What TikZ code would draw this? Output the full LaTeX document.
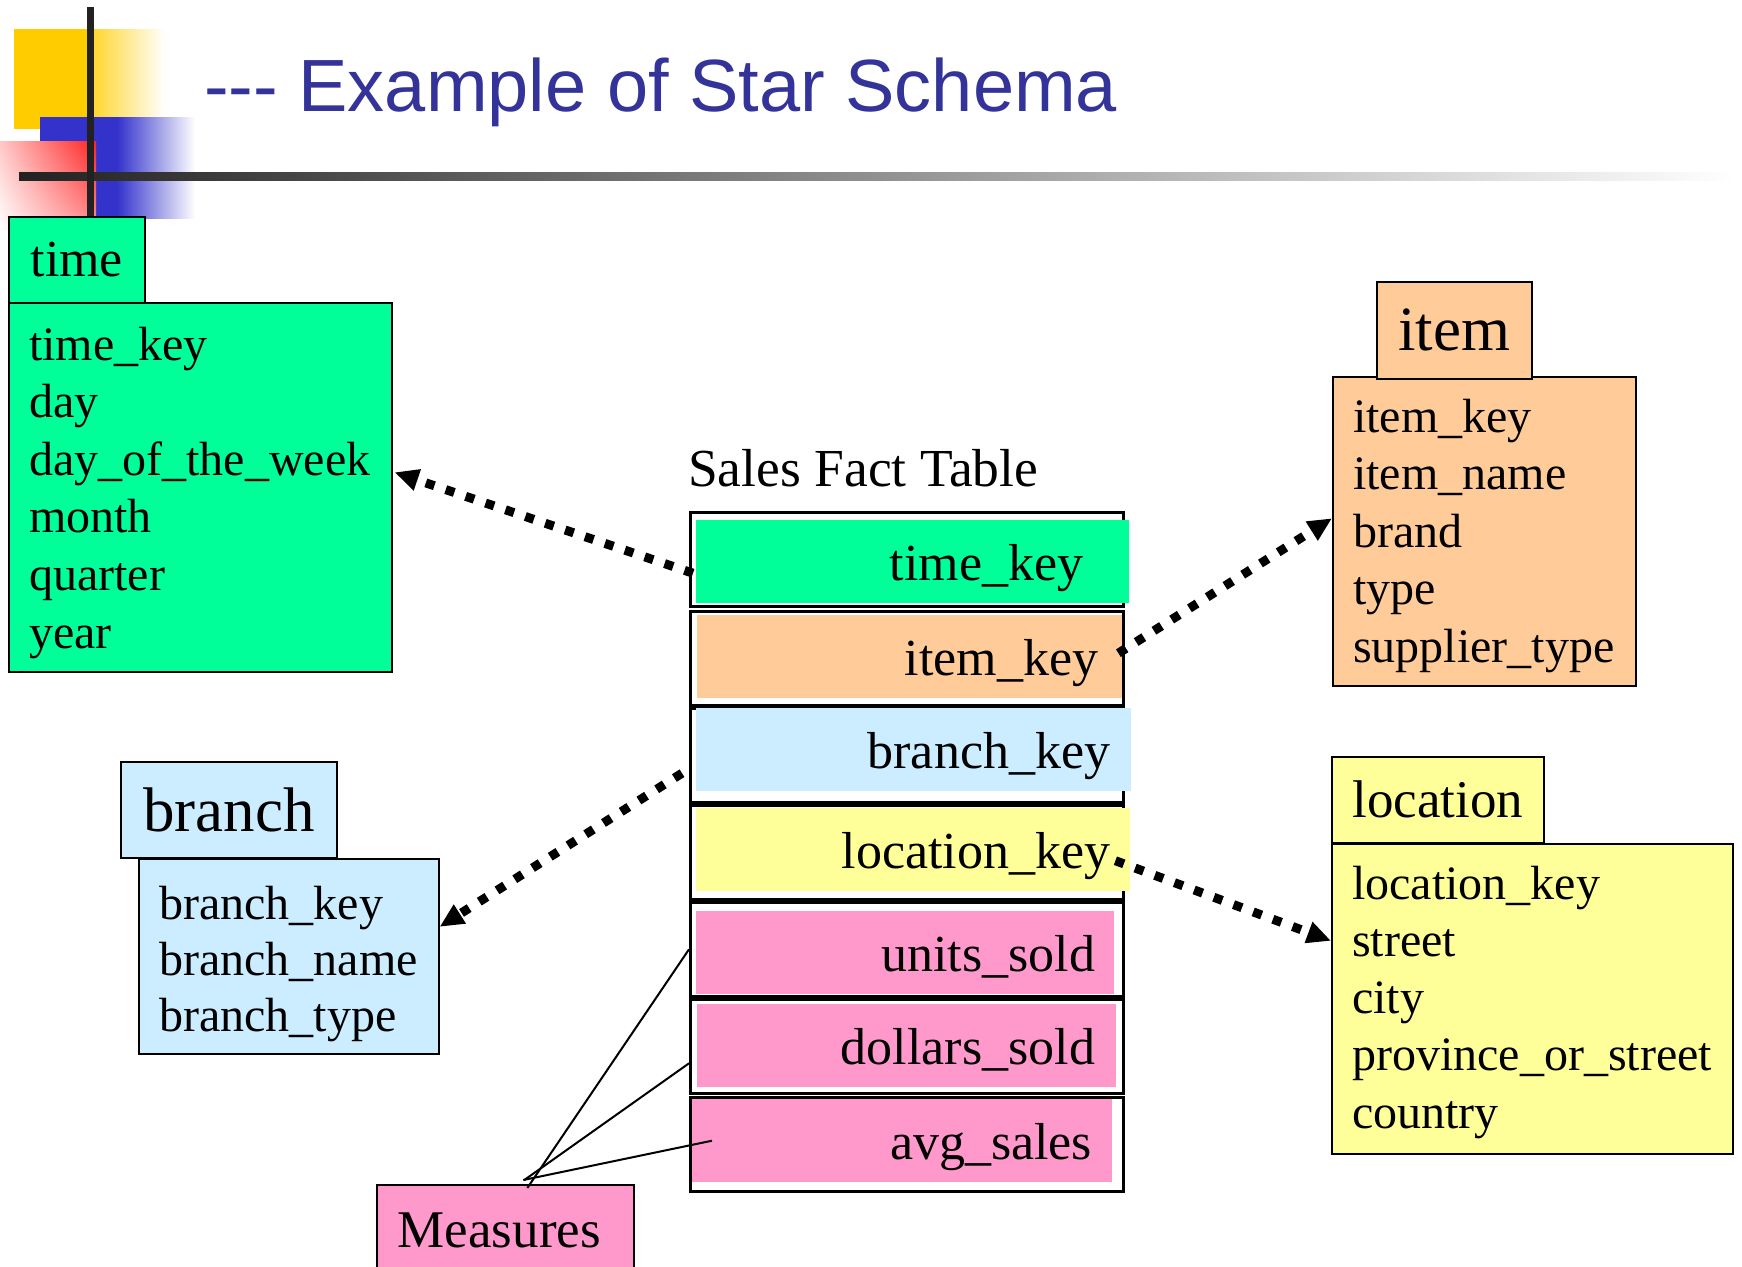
\documentclass[tikz,border=0pt]{standalone}
\usepackage{fontspec}
\setmainfont{Liberation Serif}
\newfontfamily\titlefont{Liberation Sans}
\usetikzlibrary{arrows.meta, calc, shadings}
\definecolor{titleblue}{HTML}{333399}
\definecolor{timegreen}{HTML}{00FF99}
\definecolor{itempeach}{HTML}{FFCC99}
\definecolor{branchblue}{HTML}{CCECFF}
\definecolor{locyellow}{HTML}{FFFF99}
\definecolor{measpink}{HTML}{FF99CC}
\definecolor{decoyellow}{HTML}{FFCC00}
\definecolor{decoblue}{HTML}{3333CC}
\definecolor{decored}{HTML}{FF2222}
\definecolor{decobar}{HTML}{222222}
\tikzset{
  dimhead/.style={draw=black, line width=1.6pt, anchor=north west, inner sep=0pt},
  dimbody/.style={draw=black, line width=1.6pt, anchor=north west, inner sep=0pt},
  attr/.style={anchor=base west, inner sep=0pt, font=\fontsize{48}{57}\selectfont},
  factrow/.style={draw=black, line width=2.6pt, fill=white, anchor=north west,
    minimum width=433pt, minimum height=94pt, inner sep=0pt},
  factkey/.style={anchor=north west, inner ysep=0pt, text height=60pt, text depth=23pt,
    align=right, font=\fontsize{52}{60}\selectfont},
  fkarrow/.style={line width=9pt, dash pattern=on 9pt off 12pt,
    -{Triangle[length=24pt,width=21pt]}},
  measline/.style={line width=2pt},
}

\begin{document}
\begin{tikzpicture}[x=1pt, y=-1pt]
  \fill[white] (0,0) rectangle (1742,1266);
  \useasboundingbox (0,0) rectangle (1742,1266);

  % title decoration
  \fill[decoyellow] (14,29) rectangle (94,129);
  \shade[left color=decoyellow!80!white, right color=white] (94,29) rectangle (165,129);
  \fill[decoblue] (40,117) rectangle (117,218);
  \shade[left color=decoblue, right color=white] (117,117) rectangle (195,218);
  \shade[upper right=decored, upper left=decored!25!white,
         lower right=decored!50!white, lower left=white] (0,141) rectangle (96,230);
  \shade[left color=decobar, right color=white] (19,172) rectangle (1735,180);
  \fill[decobar] (87,7) rectangle (94,216);
  \node[anchor=base west, inner sep=0pt, text=titleblue,
        font=\titlefont\fontsize{74}{80}\selectfont] (title) at (204,111)
        {{-}{-}{-} Example of Star Schema};

  % time
  \node[dimbody, fill=timegreen, minimum width=383pt, minimum height=369pt] (timebox) at (8,302) {};
  \node[dimhead, fill=timegreen, minimum width=136pt, minimum height=86pt,
        font=\fontsize{52}{60}\selectfont] (timehead) at (8,216) {time};
  \foreach \a [count=\i] in {time\_key, day, day\_of\_the\_week, month, quarter, year}
    \node[attr] (time\i) at (29, {360+57.6*(\i-1)}) {\a};

  % item
  \node[dimbody, fill=itempeach, minimum width=303pt, minimum height=309pt] (itembox) at (1332,376) {};
  \node[dimhead, fill=itempeach, minimum width=155pt, minimum height=97pt,
        font=\fontsize{63}{70}\selectfont] (itemhead) at (1376,281) {item};
  \foreach \a [count=\i] in {item\_key, item\_name, brand, type, supplier\_type}
    \node[attr] (item\i) at (1353, {432+57.5*(\i-1)}) {\a};

  % branch
  \node[dimbody, fill=branchblue, minimum width=300pt, minimum height=195pt] (branchbox) at (138,858) {};
  \node[dimhead, fill=branchblue, minimum width=216pt, minimum height=96pt,
        font=\fontsize{63}{70}\selectfont] (branchhead) at (120,761) {branch};
  \foreach \a [count=\i] in {branch\_key, branch\_name, branch\_type}
    \node[attr] (branch\i) at (159, {919+56*(\i-1)}) {\a};

  % location
  \node[dimbody, fill=locyellow, minimum width=401pt, minimum height=310pt] (locbox) at (1331,843) {};
  \node[dimhead, fill=locyellow, minimum width=212pt, minimum height=86pt,
        font=\fontsize{53}{60}\selectfont] (lochead) at (1331,756) {location};
  \foreach \a [count=\i] in {location\_key, street, city, province\_or\_street, country}
    \node[attr] (loc\i) at (1352, {899+57.3*(\i-1)}) {\a};

  % fact table
  \node[anchor=base west, inner sep=0pt, font=\fontsize{53.5}{60}\selectfont] (sft) at (688,486) {Sales Fact Table};
  \foreach \t [count=\i] in {511,610,707,804,901,998,1096}
    \node[factrow] (fr\i) at (689,\t) {};
  \foreach \x/\y/\p/\tw/\c/\k [count=\i] in {
      696/520/46/341/timegreen/time\_key,
      697/615/24/377/itempeach/item\_key,
      696/708/21/393/branchblue/branch\_key,
      696/808/20/394/locyellow/location\_key,
      696/911/19/380/measpink/units\_sold,
      697/1004/21/377/measpink/dollars\_sold,
      692/1099/20/380/measpink/avg\_sales}
    \node[factkey, fill=\c, inner xsep=\p pt, text width=\tw pt] (fk\i) at (\x,\y) {\k};

  % measures
  \node[dimbody, fill=measpink, text width=215pt, inner xsep=21pt, align=left,
        text height=63pt, text depth=40pt, font=\fontsize{53}{60}\selectfont] (measures) at (376,1184) {Measures};
  \draw[measline] (fr5.west) -- ([xshift=22pt,yshift=-4pt]measures.north);
  \draw[measline] ([yshift=-17pt]fr6.west) -- ([xshift=19pt,yshift=4pt]measures.north);
  \draw[measline] ([xshift=20pt]fk7.west) -- ([xshift=18pt,yshift=4pt]measures.north);

  % foreign keys
  \draw[fkarrow] ([xshift=-3pt,yshift=-11.5pt]fk1.west) -- ([xshift=2pt,yshift=15pt]timebox.east);
  \draw[fkarrow] ([xshift=-4pt,yshift=3.5pt]fk2.east) -- ([yshift=13pt]itembox.west);
  \draw[fkarrow] ([xshift=-14pt,yshift=-23.5pt]fk3.west) -- ([yshift=29.5pt]branchbox.east);
  \draw[fkarrow] ([xshift=-15pt,yshift=-11pt]fk4.east) -- ([yshift=58pt]locbox.west);
\end{tikzpicture}
\end{document}
